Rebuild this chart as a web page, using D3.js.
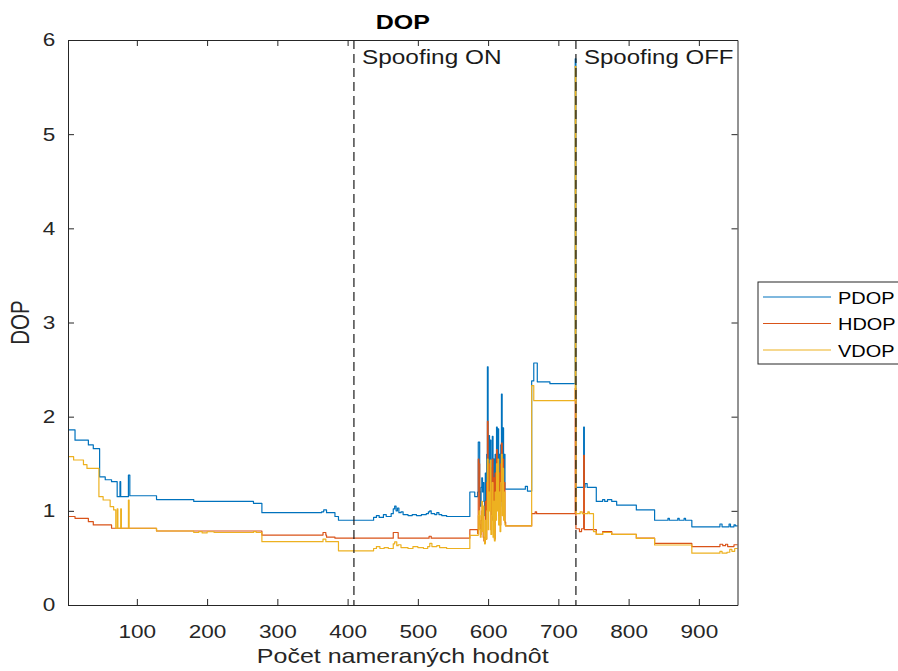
<!DOCTYPE html>
<html>
<head>
<meta charset="utf-8">
<script src="https://cdn.jsdelivr.net/npm/d3@7"></script>
<style>
  html, body { margin: 0; padding: 0; background: #fff; }
  svg { display: block; font-family: "Liberation Sans", Arial, Helvetica, sans-serif; }
</style>
</head>
<body>
<svg id="chart" width="898" height="671"></svg>
<script>
// Sample index where spoofing starts / stops
const spoofingOn = 409;
const spoofingOff = 725;

const xTicks = [100, 200, 300, 400, 500, 600, 700, 800, 900];
const yTicks = [0, 1, 2, 3, 4, 5, 6];
const seriesNames = ["PDOP", "HDOP", "VDOP"];
const seriesColors = ["#0072BD", "#D95319", "#EDB120"];

// Each series is stored as [sampleIndex, value] change points (value holds until next point)
const pdopBefore = [
  [1,1.86],[12,1.75],[31,1.70],[38,1.66],[47,1.36],[55,1.33],[64,1.31],[72,1.15],[76,1.31],[77,1.15],
  [88,1.38],[90,1.16],[128,1.12],[181,1.10],[266,1.08],[278,0.98],[363,0.99],[366,1.01],[370,0.98],
  [382,0.94],[387,0.90],[437,0.93],[441,0.95],[445,0.93],[451,0.96],[455,0.94],[462,0.97],[465,1.02],
  [467,1.05],[469,1.00],[471,1.03],[473,0.98],[476,0.99],[479,0.96],[486,0.95],[492,0.96],[498,0.95],
  [505,0.96],[512,0.97],[515,0.99],[517,1.00],[519,0.97],[524,0.96],[527,0.98],[530,0.96],[534,0.95],
  [541,0.94],[574,1.20],[581,1.15]
];
const hdopBefore = [
  [1,0.94],[12,0.92],[31,0.885],[38,0.85],[64,0.815],[128,0.786],[278,0.743],[365,0.77],[369,0.743],
  [370,0.72],[382,0.71],[465,0.77],[472,0.71],[516,0.73],[519,0.71],[574,0.80]
];
const vdopBefore = [
  [1,1.575],[10,1.54],[24,1.49],[29,1.45],[46,1.15],[52,1.115],[62,1.044],[67,1.01],[70,0.815],
  [72,1.02],[73,0.815],[77,1.02],[78,0.815],[88,1.115],[89,0.815],[128,0.786],[181,0.77],[188,0.78],
  [193,0.765],[200,0.778],[210,0.77],[266,0.78],[270,0.77],[278,0.672],[365,0.70],[369,0.672],
  [387,0.575],[437,0.60],[441,0.62],[446,0.60],[452,0.61],[458,0.60],[465,0.65],[467,0.67],[470,0.63],
  [472,0.64],[476,0.61],[486,0.60],[493,0.62],[500,0.61],[508,0.60],[514,0.62],[517,0.655],[520,0.62],
  [527,0.63],[531,0.61],[541,0.60],[574,0.74]
];

// Per-sample values during the unstable stretch (samples 585..624)
const burstStart = 585;
const pdopBurst = [1.20,1.73,1.73,1.20,1.05,1.25,1.35,1.20,1.30,1.10,0.95,1.40,1.00,1.60,2.53,1.30,1.80,1.50,1.75,1.00,
                   1.45,1.79,1.10,1.55,0.95,1.60,1.25,1.89,1.40,1.87,1.20,1.60,1.05,1.70,2.24,1.30,1.88,1.25,1.60,1.23];
const hdopBurst = [0.76,1.55,1.50,0.85,0.75,0.90,1.00,0.80,0.72,0.68,0.66,1.10,0.70,1.30,1.95,1.05,1.50,1.20,1.45,0.80,
                   1.20,1.55,0.90,1.35,0.70,1.40,1.05,1.65,1.20,1.50,0.95,1.40,0.85,1.50,1.72,1.10,1.55,1.00,1.30,0.88];
const vdopBurst = [0.74,0.95,1.00,0.80,0.72,0.95,1.10,0.78,1.05,0.70,0.65,0.90,0.70,1.00,1.55,0.80,1.20,1.00,1.54,0.75,
                   0.95,1.30,0.72,1.10,0.68,1.20,0.90,1.50,1.00,1.55,0.85,1.20,0.78,1.30,1.60,0.95,1.45,0.90,1.20,0.85];

const pdopAfter = [
  [625,1.23],[653,1.26],[656,1.21],[662,2.38],[665,2.57],[670,2.37],[688,2.35],[724,5.80],[725,1.25],
  [736,1.89],[737,1.25],[738,1.29],[741,1.25],[754,1.10],[763,1.12],[766,1.10],[770,1.12],[776,1.10],
  [783,1.06],[811,1.01],[837,0.90],[856,0.92],[858,0.90],[870,0.92],[872,0.90],[879,0.92],[881,0.90],
  [890,0.83],[930,0.86],[933,0.83],[943,0.86],[945,0.83],[950,0.85],[952,0.84],[956,0.84]
];
const hdopAfter = [
  [625,0.84],[662,0.97],[667,0.99],[669,0.97],[724,2.30],[725,0.81],[730,0.78],[733,0.81],[736,1.59],
  [737,0.80],[754,0.75],[763,0.78],[776,0.75],[811,0.71],[837,0.655],[890,0.62],[930,0.645],[934,0.63],
  [938,0.645],[941,0.62],[950,0.64],[956,0.64]
];
const vdopAfter = [
  [625,0.84],[662,2.33],[665,2.17],[724,5.72],[725,0.97],[731,0.99],[734,0.97],[742,0.99],[744,0.97],
  [750,0.78],[754,0.75],[763,0.77],[776,0.75],[811,0.708],[837,0.637],[890,0.55],[930,0.57],[933,0.55],
  [940,0.56],[944,0.59],[947,0.57],[951,0.60],[956,0.60]
];

function assemble(before, burst, after) {
  return before.concat(burst.map((v, k) => [burstStart + k, v]), after);
}
const series = [
  assemble(pdopBefore, pdopBurst, pdopAfter),
  assemble(hdopBefore, hdopBurst, hdopAfter),
  assemble(vdopBefore, vdopBurst, vdopAfter)
];

// Layout
const plot = { left: 68, right: 737.5, top: 40, bottom: 605 };
const axisColor = "#262626";
const stretch = 1.22;   // glyphs are drawn wider than the font's natural width

const svg = d3.select("#chart");
const x = d3.scaleLinear().domain([2, 955]).range([plot.left, plot.right]);
const y = d3.scaleLinear().domain([0, 6]).range([plot.bottom, plot.top]);

svg.append("defs").append("clipPath").attr("id", "plotClip")
  .append("rect")
  .attr("x", plot.left).attr("y", plot.top)
  .attr("width", plot.right - plot.left).attr("height", plot.bottom - plot.top);

// Series lines
const line = d3.line()
  .x(d => x(d[0]))
  .y(d => y(d[1]))
  .curve(d3.curveStepAfter);

const lines = svg.append("g").attr("clip-path", "url(#plotClip)");
series.forEach((s, k) => {
  lines.append("path")
    .datum(s)
    .attr("fill", "none")
    .attr("stroke", seriesColors[k])
    .attr("stroke-width", 1.2)
    .attr("stroke-linejoin", "round")
    .attr("d", line);
});

// Spoofing markers
[spoofingOn, spoofingOff].forEach(v => {
  svg.append("line")
    .attr("x1", x(v)).attr("x2", x(v))
    .attr("y1", plot.top).attr("y2", plot.bottom)
    .attr("stroke", "#1a1a1a")
    .attr("stroke-width", 1.2)
    .attr("stroke-dasharray", "9,5");
});

// Helper for horizontally stretched text placed at (tx, ty)
function stretchedText(tx, ty, str, size, extra) {
  const t = svg.append("text")
    .attr("transform", `translate(${tx},${ty}) scale(${stretch},1)`)
    .attr("font-size", size)
    .attr("fill", "#1a1a1a")
    .text(str);
  if (extra) extra(t);
  return t;
}

stretchedText(x(spoofingOn) + 8, 63.5, "Spoofing ON", 20);
stretchedText(x(spoofingOff) + 8, 63.5, "Spoofing OFF", 19.7);

// Axes (box with inward ticks on all sides)
function styleAxis(g) {
  g.selectAll("path").attr("stroke", axisColor).attr("stroke-width", 1);
  g.selectAll("line").attr("stroke", axisColor).attr("stroke-width", 1);
  g.selectAll("text").attr("fill", axisColor).attr("font-size", 18.5)
    .attr("font-family", "Liberation Sans, Arial, sans-serif")
    .attr("transform", `scale(${stretch},1)`);
}
const tickLen = 6;
svg.append("g")
  .attr("transform", `translate(0,${plot.bottom})`)
  .call(d3.axisBottom(x).tickValues(xTicks).tickSizeInner(-tickLen).tickSizeOuter(0).tickPadding(20))
  .call(styleAxis);
svg.append("g")
  .attr("transform", `translate(0,${plot.top})`)
  .call(d3.axisTop(x).tickValues(xTicks).tickSizeInner(-tickLen).tickSizeOuter(0).tickFormat(""))
  .call(styleAxis);
svg.append("g")
  .attr("transform", `translate(${plot.left},0)`)
  .call(d3.axisLeft(y).tickValues(yTicks).tickFormat(d3.format("d")).tickSizeInner(-tickLen).tickSizeOuter(0).tickPadding(10.5))
  .call(styleAxis);
svg.append("g")
  .attr("transform", `translate(${plot.right},0)`)
  .call(d3.axisRight(y).tickValues(yTicks).tickSizeInner(-tickLen).tickSizeOuter(0).tickFormat(""))
  .call(styleAxis);

// Title and axis labels
stretchedText((plot.left + plot.right) / 2, 29, "DOP", 20.5, t =>
  t.attr("text-anchor", "middle").attr("font-weight", "bold").attr("fill", "#000"));
stretchedText((plot.left + plot.right) / 2, 663, "Počet nameraných hodnôt", 20.5, t =>
  t.attr("text-anchor", "middle").attr("fill", axisColor));
svg.append("text")
  .attr("transform", `translate(29,${(plot.top + plot.bottom) / 2}) scale(${stretch},1) rotate(-90)`)
  .attr("text-anchor", "middle").attr("font-size", 20.5).attr("fill", axisColor)
  .text("DOP");

// Legend (box runs off the right edge of the figure)
const legend = svg.append("g");
legend.append("rect")
  .attr("x", 758).attr("y", 282).attr("width", 160).attr("height", 82)
  .attr("fill", "#fff").attr("stroke", axisColor).attr("stroke-width", 1);
seriesNames.forEach((name, k) => {
  const ly = 297 + k * 26.5;
  legend.append("line")
    .attr("x1", 763).attr("x2", 831).attr("y1", ly).attr("y2", ly)
    .attr("stroke", seriesColors[k]).attr("stroke-width", 1.2);
  legend.append("text")
    .attr("transform", `translate(838,${ly + 6.5}) scale(1.16,1)`)
    .attr("font-size", 17.2).attr("fill", "#000")
    .text(name);
});
</script>
</body>
</html>
